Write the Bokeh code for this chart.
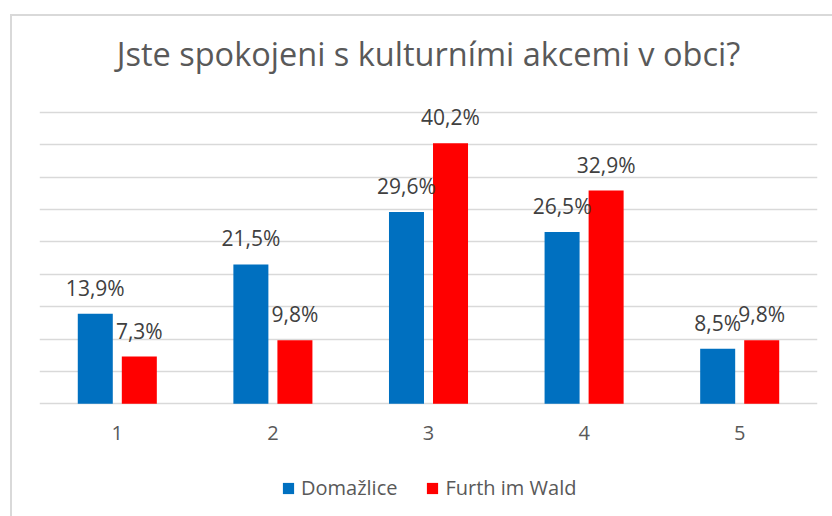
from bokeh.plotting import figure
from bokeh.models import ColumnDataSource, Legend, LegendItem, FixedTicker, Range1d, Label
from bokeh.transform import dodge
from bokeh.core.properties import value
from bokeh.embed import file_html
from bokeh.resources import INLINE

categories = [1, 2, 3, 4, 5]
tick_labels = ["1", "2", "3", "4", "5"]
domazlice = [13.9, 21.5, 29.6, 26.5, 8.5]
furth = [7.3, 9.8, 40.2, 32.9, 9.8]
series_names = ["Domažlice", "Furth im Wald"]
title_text = "Jste spokojeni s kulturními akcemi v obci?"
grid_ticks = [0, 5, 10, 15, 20, 25, 30, 35, 40, 45]

def fmt(v):
    return f"{v:.1f}".replace(".", ",") + "%"

src = ColumnDataSource(dict(
    x=categories,
    d=domazlice,
    f=furth,
    dl=[fmt(v) for v in domazlice],
    fl=[fmt(v) for v in furth],
))

FONT = "Open Sans"
GRID = "#D9D9D9"
TXT = "#595959"

# frame spans full height: 0% sits at 403.3px, 45% at 111.7px (6.48 px per %)
p = figure(width=832, height=516, output_backend="svg", toolbar_location=None, title=None,
           x_range=Range1d(0.5, 5.5), y_range=Range1d(-17.39, 62.24),
           min_border_left=39, min_border_right=15, min_border_top=0, min_border_bottom=0)
p.outline_line_color = None
p.background_fill_color = None
p.border_fill_color = None
p.styles = {
    "background": "linear-gradient(#D9D9D9, #D9D9D9) 10px 14px / 100% 2px no-repeat, "
                  "linear-gradient(#D9D9D9, #D9D9D9) 10px 14px / 2px 100% no-repeat, white"
}

title = Label(x=3, y=54.0, text=title_text, text_align="center", text_baseline="alphabetic",
              text_font=FONT, text_font_size="32.5px", text_color=TXT)
p.add_layout(title)

off = 0.1415
bw = 0.225
r1 = p.vbar(x=dodge("x", -off, range=p.x_range), top="d", width=bw, source=src,
            fill_color="#0070C0", line_color=None)
r2 = p.vbar(x=dodge("x", off, range=p.x_range), top="f", width=bw, source=src,
            fill_color="#FF0000", line_color=None)

for col, lab, o in (("d", "dl", -off), ("f", "fl", off)):
    p.text(x=dodge("x", o, range=p.x_range), y=col, text=lab, source=src,
           text_font=value(FONT), text_font_size="21px", text_color="#404040",
           text_align="center", text_baseline="alphabetic", y_offset=-26)

p.yaxis.visible = False
p.yaxis.ticker = FixedTicker(ticks=grid_ticks)
p.ygrid.ticker = FixedTicker(ticks=grid_ticks)
p.ygrid.grid_line_color = GRID
p.ygrid.grid_line_width = 1.3
p.xgrid.visible = False

p.xaxis.fixed_location = 0
p.xaxis.ticker = FixedTicker(ticks=categories)
p.xaxis.major_label_overrides = {c: t for c, t in zip(categories, tick_labels)}
p.xaxis.axis_line_color = None
p.xaxis.major_tick_line_color = None
p.xaxis.minor_tick_line_color = None
p.xaxis.major_tick_out = 0
p.xaxis.major_tick_in = 0
p.xaxis.major_label_standoff = 22
p.xaxis.major_label_text_font = FONT
p.xaxis.major_label_text_font_size = "20px"
p.xaxis.major_label_text_color = TXT

legend = Legend(items=[LegendItem(label=series_names[0], renderers=[r1]),
                       LegendItem(label=series_names[1], renderers=[r2])],
                orientation="horizontal", location=(242, 15),
                glyph_width=14, glyph_height=14, label_standoff=6, spacing=28,
                label_text_font=FONT, label_text_font_size="20px", label_text_color=TXT,
                border_line_color=None, background_fill_alpha=0, margin=0, padding=0)
p.add_layout(legend)

open("out.html", "w").write(file_html(p, INLINE))
